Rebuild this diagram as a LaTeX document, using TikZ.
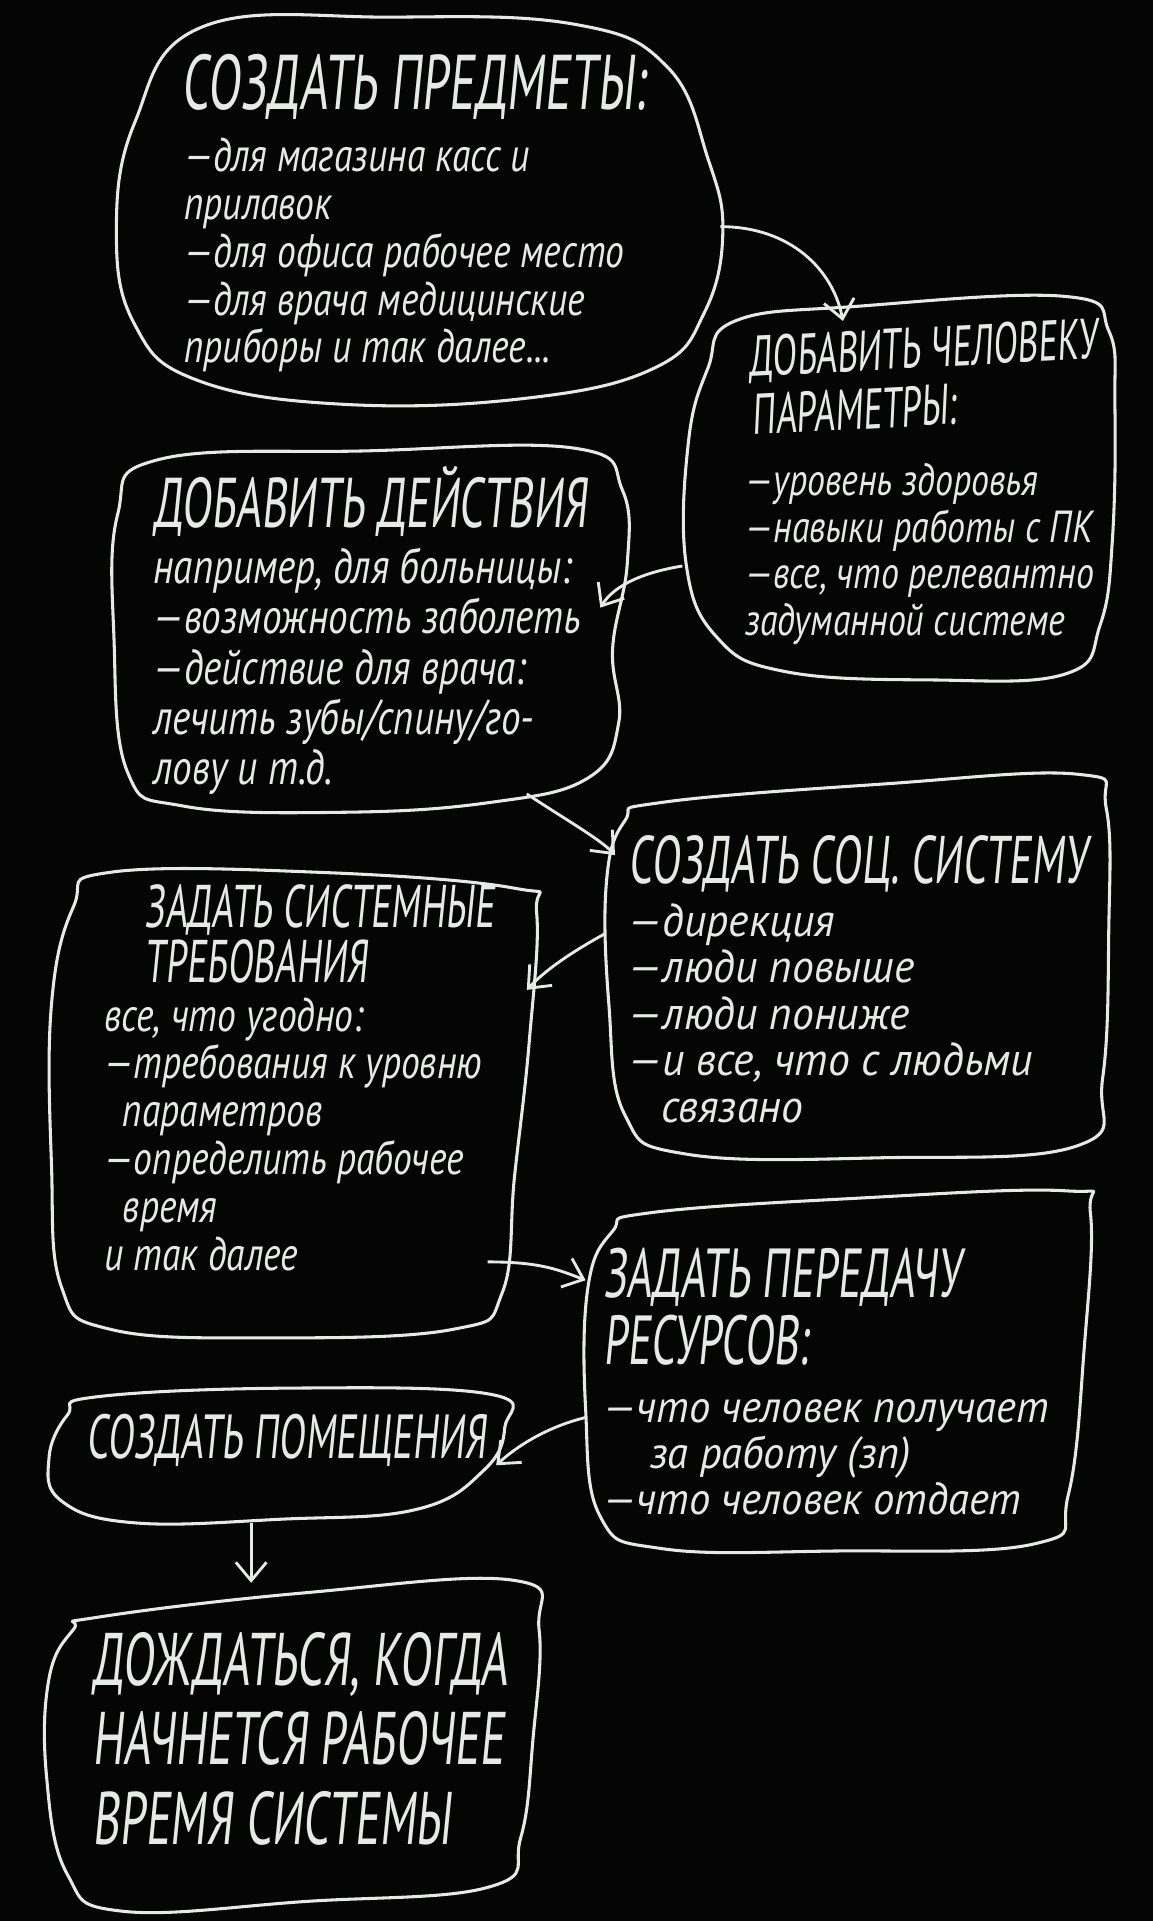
\documentclass[tikz,border=0pt]{standalone}
\usepackage{fontspec}
\setmainfont{PT Sans}
\newfontfamily\capsf[FakeStretch=0.62,FakeSlant=0.1]{PT Sans}
\newfontfamily\bodyf[FakeStretch=0.8]{PT Sans}
\newfontfamily\bodyw[FakeStretch=0.95]{PT Sans}
\usetikzlibrary{arrows.meta}
\definecolor{chalk}{HTML}{E4EAE4}
\definecolor{board}{HTML}{050505}
\tikzset{
 blob/.style={draw=chalk, line width=1.5pt, line join=round},
 conn/.style={draw=chalk, line width=1.4pt, -{Straight Barb[length=9pt,width=15pt,line width=1.4pt]}},
 ttl/.style={anchor=north west, inner sep=0pt, text=chalk, align=left, font=\capsf\fontsize{38}{28}\selectfont},
 bdy/.style={anchor=north west, inner sep=0pt, text=chalk, align=left, font=\bodyf\itshape\fontsize{23}{23.5}\selectfont},
}
\begin{document}
\begin{tikzpicture}[x=0.6pt,y=-0.6pt]
\fill[board] (0,0) rectangle (941,1568);
\useasboundingbox (0,0) rectangle (941,1568);

% outlines
\draw[blob] plot[smooth cycle, tension=0.7] coordinates {(165,22) (320,14) (470,20) (545,55) (578,130) (590,190) (575,255) (535,300) (430,325) (280,330) (160,310) (110,265) (95,190) (110,100)};
\draw[blob] plot[smooth cycle, tension=0.7] coordinates {(600,262) (700,250) (870,242) (905,270) (910,330) (908,440) (898,510) (870,550) (760,555) (640,548) (585,520) (560,460) (562,360) (578,300)};
\draw[blob] plot[smooth cycle, tension=0.7] coordinates {(130,375) (300,368) (470,366) (508,400) (512,460) (500,530) (505,590) (480,635) (400,655) (280,663) (150,658) (104,630) (93,520) (96,420)};
\draw[blob] plot[smooth cycle, tension=0.7] coordinates {(540,655) (720,640) (880,632) (903,660) (905,760) (900,880) (880,935) (720,945) (560,942) (510,910) (497,820) (495,720) (510,670)};
\draw[blob] plot[smooth cycle, tension=0.7] coordinates {(90,712) (260,712) (420,725) (438,745) (432,850) (420,960) (410,1055) (370,1085) (220,1092) (90,1085) (50,1050) (42,950) (42,820) (60,740)};
\draw[blob] plot[smooth cycle, tension=0.7] coordinates {(530,990) (700,978) (870,972) (890,990) (885,1100) (872,1220) (845,1260) (680,1266) (540,1264) (490,1238) (478,1150) (480,1050) (500,1005)};
\draw[blob] plot[smooth cycle, tension=0.7] coordinates {(80,1140) (240,1133) (400,1138) (412,1165) (395,1200) (340,1232) (230,1240) (110,1243) (50,1225) (40,1190) (55,1155)};
\draw[blob] plot[smooth cycle, tension=0.7] coordinates {(80,1320) (250,1300) (420,1290) (440,1330) (435,1420) (425,1500) (400,1540) (250,1552) (100,1560) (55,1530) (38,1450) (40,1370) (60,1330)};

% texts
\node[ttl] (t1) at (148,44) {СОЗДАТЬ ПРЕДМЕТЫ:};
\node[bdy] (b1) at (150,112) {—для магазина касс и\\прилавок\\—для офиса рабочее место\\—для врача медицинские\\приборы и так далее...};

\node[ttl, font=\capsf\fontsize{28}{28.5}\selectfont, rotate=3, anchor=north west] (t2) at (610,274) {ДОБАВИТЬ ЧЕЛОВЕКУ\\ПАРАМЕТРЫ:};
\node[bdy, font=\bodyf\itshape\fontsize{22}{22.8}\selectfont] (b2) at (608,378) {—уровень здоровья\\—навыки работы с ПК\\—все, что релевантно\\задуманной системе};

\node[ttl, font=\capsf\fontsize{34.5}{28}\selectfont] (t3) at (125,380) {ДОБАВИТЬ ДЕЙСТВИЯ};
\node[bdy, font=\bodyf\itshape\fontsize{24}{24.6}\selectfont] (b3) at (125,447) {например, для больницы:\\—возможность заболеть\\—действие для врача:\\лечить зубы/спину/го-\\лову и т.д.};

\node[ttl, font=\capsf\fontsize{33}{28}\selectfont] (t4) at (513,682) {СОЗДАТЬ СОЦ. СИСТЕМУ};
\node[bdy, font=\bodyw\itshape\fontsize{22.5}{22.8}\selectfont] (b4) at (513,737) {—дирекция\\—люди повыше\\—люди пониже\\—и все, что с людьми\\\hspace*{16pt}связано};

\node[ttl, font=\capsf\fontsize{29.5}{27}\selectfont] (t5) at (118,722) {ЗАДАТЬ СИСТЕМНЫЕ\\ТРЕБОВАНИЯ};
\node[bdy, font=\bodyf\itshape\fontsize{23}{23.4}\selectfont] (b5) at (85,814) {все, что угодно:\\—требования к уровню\\\hspace*{9pt}параметров\\—определить рабочее\\\hspace*{9pt}время\\и так далее};

\node[ttl, font=\capsf\fontsize{34}{33}\selectfont] (t6) at (492,1018) {ЗАДАТЬ ПЕРЕДАЧУ\\РЕСУРСОВ:};
\node[bdy, font=\bodyw\itshape\fontsize{22}{22.5}\selectfont] (b6) at (492,1142) {—что человек получает\\\hspace*{23pt}за работу (зп)\\—что человек отдает};

\node[ttl, font=\capsf\fontsize{30.5}{28}\selectfont] (t7) at (70,1154) {СОЗДАТЬ ПОМЕЩЕНИЯ};

\node[ttl, font=\capsf\fontsize{36.5}{39}\selectfont] (t8) at (75,1332) {ДОЖДАТЬСЯ, КОГДА\\НАЧНЕТСЯ РАБОЧЕЕ\\ВРЕМЯ СИСТЕМЫ};

% connector end points
\coordinate (a1s) at (588,185); \coordinate (a1e) at (688,262);
\coordinate (a2s) at (557,462); \coordinate (a2e) at (490,496);
\coordinate (a3s) at (430,648); \coordinate (a3e) at (502,698);
\coordinate (a4s) at (494,762); \coordinate (a4e) at (430,808);
\coordinate (a5s) at (398,1030); \coordinate (a5e) at (478,1045);
\coordinate (a6s) at (478,1157); \coordinate (a6e) at (405,1196);
\coordinate (a7s) at (205,1243); \coordinate (a7e) at (205,1292);

\draw[conn] (a1s) .. controls (645,185) and (680,220) .. (a1e);
\draw[conn] (a2s) .. controls (520,468) and (500,480) .. (a2e);
\draw[conn] (a3s) .. controls (460,668) and (490,685) .. (a3e);
\draw[conn] (a4s) .. controls (465,778) and (445,792) .. (a4e);
\draw[conn] (a5s) .. controls (440,1030) and (455,1036) .. (a5e);
\draw[conn] (a6s) .. controls (445,1165) and (420,1182) .. (a6e);
\draw[conn] (a7s) -- (a7e);
\end{tikzpicture}
\end{document}
